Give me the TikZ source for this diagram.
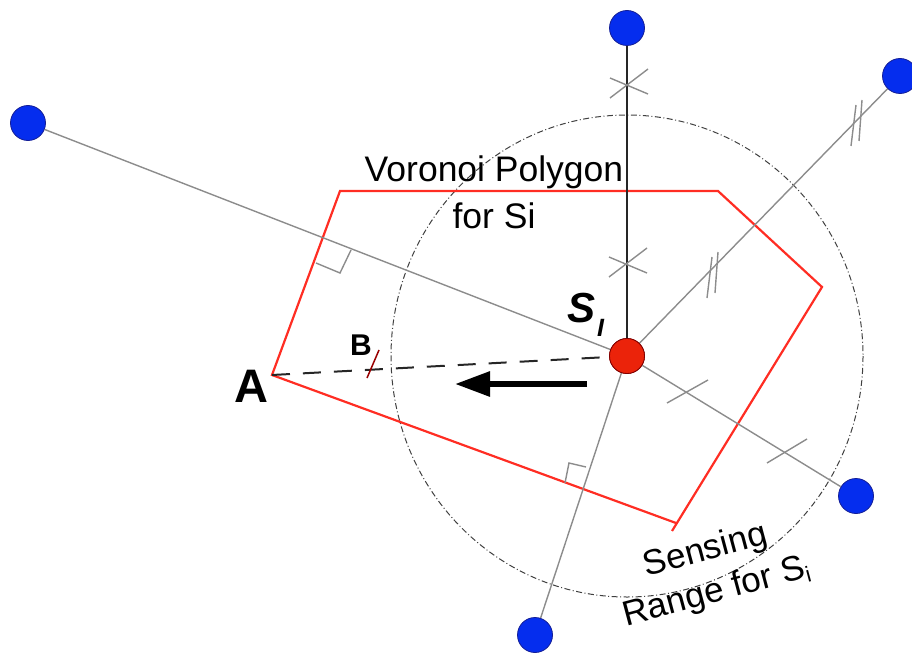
\documentclass[tikz,border=0pt]{standalone}
\usepackage{fontspec}
\setmainfont{Liberation Sans}
\usetikzlibrary{arrows.meta}
\definecolor{nodeblue}{RGB}{5,45,238}
\definecolor{nodeblueline}{RGB}{20,30,150}
\definecolor{centerred}{RGB}{235,35,10}
\definecolor{polyred}{RGB}{255,45,35}
\definecolor{linegray}{RGB}{140,140,140}
\tikzset{
  bluenode/.style={circle,fill=nodeblue,draw=nodeblueline,line width=0.8,minimum size=35,inner sep=0},
  rednode/.style={circle,fill=centerred,draw=red!50!black,line width=0.8,minimum size=35,inner sep=0},
  grayline/.style={draw=linegray,line width=1.4},
  tickmark/.style={draw=linegray,line width=1.4},
  polyline/.style={draw=polyred,line width=2.2},
  rangecircle/.style={draw=black!75,line width=1,dash pattern=on 6pt off 2.5pt on 1pt off 2.5pt},
  lbl/.style={inner sep=0,font=\fontsize{35.5}{46}\selectfont},
}
\begin{document}
\begin{tikzpicture}[x=1pt,y=-1pt]
\useasboundingbox (0,0) rectangle (912,655);
% sensing range
\draw[rangecircle] (627,356) ellipse [x radius=236, y radius=241];
% polygon
\coordinate (A) at (272,375);
\coordinate (P1) at (340,191);
\coordinate (P2) at (718,191);
\coordinate (P3) at (822,287);
\coordinate (P4) at (672,531);
\coordinate (P5) at (676,523);
\draw[polyline] (P5) -- (A) -- (P1) -- (P2) -- (P3) -- (P4);
% nodes
\node[rednode] (c) at (627,356) {};
\node[bluenode] (n1) at (627,28) {};
\node[bluenode] (n2) at (900,76) {};
\node[bluenode] (n3) at (28,123) {};
\node[bluenode] (n4) at (856,496) {};
\node[bluenode] (n5) at (535,635) {};
% connectors
\draw[draw=black!85,line width=2.4] (c.center) -- (n1);
\draw[grayline] (c) -- (n2);
\draw[grayline] (c) -- (n3);
\draw[grayline] (c) -- (n4);
\draw[grayline] (c) -- (n5);
\draw[black!85,line width=2,dash pattern=on 18pt off 13pt] (A) -- (c);
% redraw center node on top
\node[rednode] at (c) {};
% tick marks: top line
\draw[tickmark] (610,78) -- (648,94) (610,98) -- (648,69);
\draw[tickmark] (609,257) -- (647,273) (609,277) -- (647,248);
% double ticks: top-right line
\draw[tickmark] (862,100) -- (859,141) (856,105) -- (851,146);
\draw[tickmark] (718,252) -- (715,293) (712,257) -- (707,298);
% single ticks: bottom-right line
\draw[tickmark] (667,403) -- (708,380);
\draw[tickmark] (767,463) -- (807,439);
% right angle marks
\draw[tickmark] (351,250) -- (340,273) -- (316,263);
\draw[tickmark] (565,483) -- (569,463) -- (586,467);
% B tick
\draw[red!60!black,line width=1.5] (367,378) -- (379,350);
% arrow
\coordinate (arS) at (587,384);
\coordinate (arE) at (455,384);
\draw[line width=6,-{Triangle[length=35pt,width=24pt]}] (arS) -- (arE);
% labels
\node[lbl,anchor=base] (t1) at (494,182) {Voronoi Polygon};
\node[lbl,anchor=base] (t2) at (494,228) {for Si};
\node[inner sep=0,anchor=base,font=\fontsize{47}{50}\selectfont\bfseries] (la) at (251,402) {A};
\node[inner sep=0,anchor=base,font=\fontsize{30}{34}\selectfont\bfseries] (lb) at (361,355) {B};
\node[inner sep=0,anchor=base west,font=\fontsize{42}{46}\selectfont\bfseries\itshape] (ls) at (567,322) {S};
\node[inner sep=0,anchor=base west,font=\fontsize{25}{28}\selectfont\bfseries\itshape] (lsi) at (597,336) {I};
\node[inner sep=0,align=center,rotate=15,font=\fontsize{35}{42.5}\selectfont] (rng) at (711,572) {Sensing\\Range for S\raisebox{-5pt}{\fontsize{22}{24}\selectfont i}};
\end{tikzpicture}
\end{document}
